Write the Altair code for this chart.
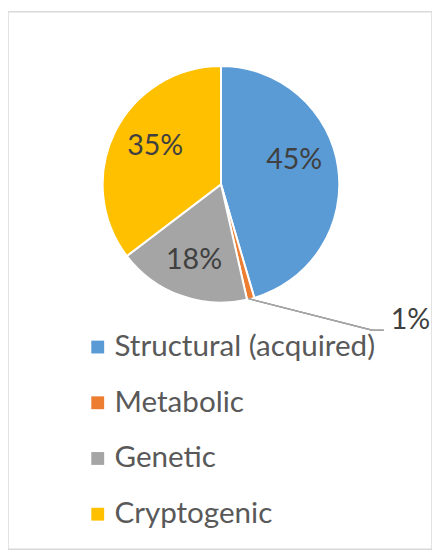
import altair as alt
import pandas as pd

categories = ["Structural (acquired)", "Metabolic", "Genetic", "Cryptogenic"]
values = [45, 1, 18, 35]
labels = ["45%", "1%", "18%", "35%"]
colors = ["#5B9BD5", "#ED7D31", "#A5A5A5", "#FFC000"]

df = pd.DataFrame({"cat": categories, "val": values, "lab": labels,
                   "order": list(range(len(categories)))})

FONT = "Lato"
FS = 29
CX, CY, R = 216, 175, 120

base = alt.Chart(df).encode(
    theta=alt.Theta("val:Q", stack=True),
    order=alt.Order("order:Q"),
)

color = alt.Color("cat:N", sort=categories,
                  scale=alt.Scale(domain=categories, range=colors),
                  legend=alt.Legend(orient="none", legendX=76, legendY=325,
                                    title=None, symbolType="square",
                                    symbolSize=170, symbolStrokeWidth=0,
                                    labelFontSize=30, labelFont=FONT,
                                    labelLimit=0,
                                    labelColor="#595959", rowPadding=26.5,
                                    labelOffset=2, padding=0))

pie = base.mark_arc(outerRadius=R, stroke="white", strokeWidth=2).encode(
    color=color, x=alt.value(CX), y=alt.value(CY))


def label_layer(cat, radius, dx, dy):
    return base.mark_text(radius=radius, fontSize=FS, font=FONT, color="#404040",
                          dx=dx, dy=dy).encode(
        text="lab:N", x=alt.value(CX), y=alt.value(CY),
        opacity=alt.condition(f"datum.cat == '{cat}'", alt.value(1), alt.value(0)))


txt_struct = label_layer("Structural (acquired)", 72, 3, -14)
txt_small = label_layer("Metabolic", R, 162, 22)
txt_gen = label_layer("Genetic", 80, 0, 2)
txt_cry = label_layer("Cryptogenic", 80, 5, -3)

leader1 = alt.Chart(df).mark_rule(color="#A5A5A5", strokeWidth=1.3).encode(
    x=alt.value(244), y=alt.value(291), x2=alt.value(370), y2=alt.value(323))
leader2 = alt.Chart(df).mark_rule(color="#A5A5A5", strokeWidth=1.3).encode(
    x=alt.value(370), y=alt.value(323), x2=alt.value(381), y2=alt.value(323))

chart = alt.layer(pie, leader1, leader2, txt_struct, txt_small, txt_gen, txt_cry).properties(
    width=430, height=545, padding=0, autosize=alt.AutoSizeParams(type="none")
).configure_view(stroke="#D9D9D9", strokeWidth=1.5)

chart.save("out.html", embed_options={"renderer": "svg", "actions": False})
